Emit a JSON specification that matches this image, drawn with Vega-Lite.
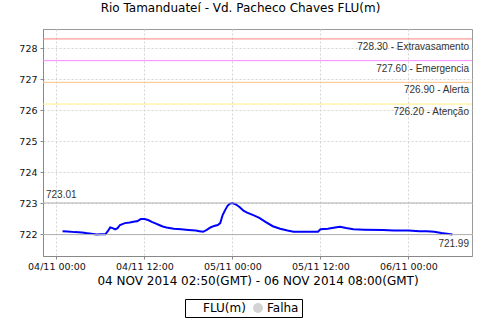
{
  "$schema": "https://vega.github.io/schema/vega-lite/v6.json",
  "width": 429,
  "height": 227,
  "autosize": {"type": "none"},
  "padding": {"left": 43, "top": 29, "right": 8, "bottom": 64},
  "title": {"text": "Rio Tamanduateí - Vd. Pacheco Chaves FLU(m)", "dx": -17, "offset": 14},
  "config": {
    "font": "DejaVu Sans",
    "view": {"stroke": "#999999"},
    "title": {"font": "DejaVu Sans", "fontSize": 12, "fontWeight": "normal", "color": "#000000", "anchor": "middle"},
    "axis": {
      "domainColor": "#888888", "tickColor": "#888888", "tickSize": 3,
      "gridColor": "#d4d4d4", "gridDash": [2, 2],
      "labelFont": "DejaVu Sans", "labelFontSize": 9.5, "labelColor": "#111111",
      "titleFont": "DejaVu Sans", "titleFontSize": 12, "titleFontWeight": "normal", "titleColor": "#000000"
    },
    "legend": {
      "strokeColor": "#000000", "padding": 3, "labelFont": "DejaVu Sans", "labelFontSize": 12,
      "labelColor": "#000000", "direction": "horizontal", "columnPadding": 6, "labelOffset": 3
    }
  },
  "datasets": {
    "flu": [
      {"t": "2014-11-04T00:50:00Z", "v": 722.10, "s": "FLU(m)"},
      {"t": "2014-11-04T01:30:00Z", "v": 722.09, "s": "FLU(m)"},
      {"t": "2014-11-04T02:30:00Z", "v": 722.07, "s": "FLU(m)"},
      {"t": "2014-11-04T03:30:00Z", "v": 722.06, "s": "FLU(m)"},
      {"t": "2014-11-04T04:00:00Z", "v": 722.04, "s": "FLU(m)"},
      {"t": "2014-11-04T05:00:00Z", "v": 722.01, "s": "FLU(m)"},
      {"t": "2014-11-04T05:30:00Z", "v": 721.99, "s": "FLU(m)"},
      {"t": "2014-11-04T06:00:00Z", "v": 722.00, "s": "FLU(m)"},
      {"t": "2014-11-04T06:40:00Z", "v": 722.00, "s": "FLU(m)"},
      {"t": "2014-11-04T07:00:00Z", "v": 722.10, "s": "FLU(m)"},
      {"t": "2014-11-04T07:20:00Z", "v": 722.22, "s": "FLU(m)"},
      {"t": "2014-11-04T07:40:00Z", "v": 722.20, "s": "FLU(m)"},
      {"t": "2014-11-04T08:00:00Z", "v": 722.16, "s": "FLU(m)"},
      {"t": "2014-11-04T08:20:00Z", "v": 722.20, "s": "FLU(m)"},
      {"t": "2014-11-04T08:40:00Z", "v": 722.30, "s": "FLU(m)"},
      {"t": "2014-11-04T09:20:00Z", "v": 722.36, "s": "FLU(m)"},
      {"t": "2014-11-04T10:00:00Z", "v": 722.38, "s": "FLU(m)"},
      {"t": "2014-11-04T10:40:00Z", "v": 722.41, "s": "FLU(m)"},
      {"t": "2014-11-04T11:00:00Z", "v": 722.42, "s": "FLU(m)"},
      {"t": "2014-11-04T11:30:00Z", "v": 722.49, "s": "FLU(m)"},
      {"t": "2014-11-04T12:00:00Z", "v": 722.49, "s": "FLU(m)"},
      {"t": "2014-11-04T12:30:00Z", "v": 722.46, "s": "FLU(m)"},
      {"t": "2014-11-04T13:00:00Z", "v": 722.40, "s": "FLU(m)"},
      {"t": "2014-11-04T13:30:00Z", "v": 722.35, "s": "FLU(m)"},
      {"t": "2014-11-04T14:00:00Z", "v": 722.30, "s": "FLU(m)"},
      {"t": "2014-11-04T14:30:00Z", "v": 722.25, "s": "FLU(m)"},
      {"t": "2014-11-04T15:00:00Z", "v": 722.22, "s": "FLU(m)"},
      {"t": "2014-11-04T16:00:00Z", "v": 722.18, "s": "FLU(m)"},
      {"t": "2014-11-04T17:00:00Z", "v": 722.16, "s": "FLU(m)"},
      {"t": "2014-11-04T18:00:00Z", "v": 722.14, "s": "FLU(m)"},
      {"t": "2014-11-04T19:00:00Z", "v": 722.12, "s": "FLU(m)"},
      {"t": "2014-11-04T19:30:00Z", "v": 722.10, "s": "FLU(m)"},
      {"t": "2014-11-04T20:00:00Z", "v": 722.08, "s": "FLU(m)"},
      {"t": "2014-11-04T20:30:00Z", "v": 722.14, "s": "FLU(m)"},
      {"t": "2014-11-04T21:00:00Z", "v": 722.22, "s": "FLU(m)"},
      {"t": "2014-11-04T21:30:00Z", "v": 722.27, "s": "FLU(m)"},
      {"t": "2014-11-04T22:00:00Z", "v": 722.30, "s": "FLU(m)"},
      {"t": "2014-11-04T22:20:00Z", "v": 722.36, "s": "FLU(m)"},
      {"t": "2014-11-04T22:40:00Z", "v": 722.62, "s": "FLU(m)"},
      {"t": "2014-11-04T23:00:00Z", "v": 722.78, "s": "FLU(m)"},
      {"t": "2014-11-04T23:20:00Z", "v": 722.92, "s": "FLU(m)"},
      {"t": "2014-11-04T23:40:00Z", "v": 722.99, "s": "FLU(m)"},
      {"t": "2014-11-05T00:00:00Z", "v": 723.01, "s": "FLU(m)"},
      {"t": "2014-11-05T00:30:00Z", "v": 722.96, "s": "FLU(m)"},
      {"t": "2014-11-05T01:00:00Z", "v": 722.87, "s": "FLU(m)"},
      {"t": "2014-11-05T01:30:00Z", "v": 722.76, "s": "FLU(m)"},
      {"t": "2014-11-05T02:00:00Z", "v": 722.70, "s": "FLU(m)"},
      {"t": "2014-11-05T03:00:00Z", "v": 722.60, "s": "FLU(m)"},
      {"t": "2014-11-05T03:40:00Z", "v": 722.53, "s": "FLU(m)"},
      {"t": "2014-11-05T04:30:00Z", "v": 722.40, "s": "FLU(m)"},
      {"t": "2014-11-05T05:30:00Z", "v": 722.26, "s": "FLU(m)"},
      {"t": "2014-11-05T06:30:00Z", "v": 722.18, "s": "FLU(m)"},
      {"t": "2014-11-05T07:30:00Z", "v": 722.12, "s": "FLU(m)"},
      {"t": "2014-11-05T08:20:00Z", "v": 722.08, "s": "FLU(m)"},
      {"t": "2014-11-05T10:00:00Z", "v": 722.08, "s": "FLU(m)"},
      {"t": "2014-11-05T11:40:00Z", "v": 722.08, "s": "FLU(m)"},
      {"t": "2014-11-05T12:00:00Z", "v": 722.16, "s": "FLU(m)"},
      {"t": "2014-11-05T13:00:00Z", "v": 722.18, "s": "FLU(m)"},
      {"t": "2014-11-05T14:00:00Z", "v": 722.22, "s": "FLU(m)"},
      {"t": "2014-11-05T14:40:00Z", "v": 722.24, "s": "FLU(m)"},
      {"t": "2014-11-05T15:30:00Z", "v": 722.20, "s": "FLU(m)"},
      {"t": "2014-11-05T16:30:00Z", "v": 722.16, "s": "FLU(m)"},
      {"t": "2014-11-05T18:00:00Z", "v": 722.15, "s": "FLU(m)"},
      {"t": "2014-11-05T20:30:00Z", "v": 722.14, "s": "FLU(m)"},
      {"t": "2014-11-05T22:00:00Z", "v": 722.12, "s": "FLU(m)"},
      {"t": "2014-11-06T00:00:00Z", "v": 722.12, "s": "FLU(m)"},
      {"t": "2014-11-06T01:30:00Z", "v": 722.10, "s": "FLU(m)"},
      {"t": "2014-11-06T02:30:00Z", "v": 722.10, "s": "FLU(m)"},
      {"t": "2014-11-06T03:30:00Z", "v": 722.08, "s": "FLU(m)"},
      {"t": "2014-11-06T04:30:00Z", "v": 722.04, "s": "FLU(m)"},
      {"t": "2014-11-06T05:30:00Z", "v": 722.01, "s": "FLU(m)"},
      {"t": "2014-11-06T06:00:00Z", "v": 721.99, "s": "FLU(m)"}
    ],
    "lim": [
      {"v": 728.30, "nome": "Extravasamento", "txt": "728.30 - Extravasamento"},
      {"v": 727.60, "nome": "Emergencia", "txt": "727.60 - Emergencia"},
      {"v": 726.90, "nome": "Alerta", "txt": "726.90 - Alerta"},
      {"v": 726.20, "nome": "Atenção", "txt": "726.20 - Atenção"}
    ],
    "ext": [
      {"v": 723.01, "k": "max", "txt": "723.01"},
      {"v": 721.99, "k": "min", "txt": "721.99"}
    ]
  },
  "layer": [
    {
      "data": {"name": "flu"},
      "mark": {"type": "line", "color": "#0000ff", "strokeWidth": 2},
      "encoding": {
        "x": {"field": "t", "type": "temporal",
              "scale": {"type": "utc", "domain": [
                {"year": 2014, "month": 11, "date": 3, "hours": 22, "minutes": 10, "utc": true},
                {"year": 2014, "month": 11, "date": 6, "hours": 8, "minutes": 40, "utc": true}], "nice": false},
              "axis": {"title": "04 NOV 2014 02:50(GMT) - 06 NOV 2014 08:00(GMT)", "labelExpr": "utcFormat(datum.value, '%d/%m %H:%M')",
                       "labelPadding": 2, "titlePadding": 5, "labelFlush": false,
                       "values": [
                         {"year": 2014, "month": 11, "date": 4, "hours": 0, "utc": true},
                         {"year": 2014, "month": 11, "date": 4, "hours": 12, "utc": true},
                         {"year": 2014, "month": 11, "date": 5, "hours": 0, "utc": true},
                         {"year": 2014, "month": 11, "date": 5, "hours": 12, "utc": true},
                         {"year": 2014, "month": 11, "date": 6, "hours": 0, "utc": true}]}},
        "y": {"field": "v", "type": "quantitative", "scale": {"domain": [721.3, 728.62], "nice": false, "zero": false},
              "axis": {"values": [722, 723, 724, 725, 726, 727, 728], "title": null, "labelPadding": 3, "format": "d", "labelOverlap": false}}
      }
    },
    {
      "data": {"name": "flu"},
      "transform": [{"filter": "datum.s == 'Falha'"}],
      "mark": {"type": "point", "filled": true},
      "encoding": {
        "x": {"field": "t", "type": "temporal",
              "scale": {"type": "utc", "domain": [
                {"year": 2014, "month": 11, "date": 3, "hours": 22, "minutes": 10, "utc": true},
                {"year": 2014, "month": 11, "date": 6, "hours": 8, "minutes": 40, "utc": true}], "nice": false},
              "axis": {"title": "04 NOV 2014 02:50(GMT) - 06 NOV 2014 08:00(GMT)", "labelExpr": "utcFormat(datum.value, '%d/%m %H:%M')",
                       "labelPadding": 2, "titlePadding": 5, "labelFlush": false,
                       "values": [
                         {"year": 2014, "month": 11, "date": 4, "hours": 0, "utc": true},
                         {"year": 2014, "month": 11, "date": 4, "hours": 12, "utc": true},
                         {"year": 2014, "month": 11, "date": 5, "hours": 0, "utc": true},
                         {"year": 2014, "month": 11, "date": 5, "hours": 12, "utc": true},
                         {"year": 2014, "month": 11, "date": 6, "hours": 0, "utc": true}]}},
        "y": {"field": "v", "type": "quantitative", "scale": {"domain": [721.3, 728.62], "nice": false, "zero": false},
              "axis": {"values": [722, 723, 724, 725, 726, 727, 728], "title": null, "labelPadding": 3, "format": "d", "labelOverlap": false}},
        "color": {"field": "s", "type": "nominal", "scale": {"domain": ["FLU(m)", "Falha"], "range": ["#0000ff", "#c0c0c0"]},
                  "legend": {"title": null, "orient": "none", "legendX": 142, "legendY": 270,
                             "encode": {"symbols": {"update": {
                               "size": {"signal": "datum.value === 'Falha' ? 30 : 144"},
                               "stroke": {"signal": "datum.value === 'Falha' ? '#c0c0c0' : '#0000ff'"},
                               "strokeWidth": {"signal": "datum.value === 'Falha' ? 0 : 2"}}}}}},
        "shape": {"field": "s", "type": "nominal", "scale": {"domain": ["FLU(m)", "Falha"], "range": ["stroke", "circle"]}}
      }
    },
    {
      "data": {"name": "ext"},
      "mark": {"type": "rule", "color": "#b0b0b0", "strokeWidth": 1},
      "encoding": {
        "y": {"field": "v", "type": "quantitative", "scale": {"domain": [721.3, 728.62], "nice": false, "zero": false},
              "axis": {"values": [722, 723, 724, 725, 726, 727, 728], "title": null, "labelPadding": 3, "format": "d", "labelOverlap": false}}
      }
    },
    {
      "data": {"name": "lim"},
      "mark": {"type": "rule", "strokeWidth": 1},
      "encoding": {
        "y": {"field": "v", "type": "quantitative", "scale": {"domain": [721.3, 728.62], "nice": false, "zero": false},
              "axis": {"values": [722, 723, 724, 725, 726, 727, 728], "title": null, "labelPadding": 3, "format": "d", "labelOverlap": false}},
        "stroke": {"field": "nome", "type": "nominal", "legend": null,
                   "scale": {"domain": ["Extravasamento", "Emergencia", "Alerta", "Atenção"], "range": ["#ff8080", "#ff88ff", "#ffc080", "#ffee80"]}}
      }
    },
    {
      "data": {"name": "lim"},
      "mark": {"type": "text", "align": "right", "baseline": "middle", "dx": -3, "dy": 8, "font": "Liberation Sans", "fontSize": 10, "color": "#333333"},
      "encoding": {
        "x": {"datum": {"year": 2014, "month": 11, "date": 6, "hours": 8, "minutes": 40, "utc": true}, "type": "temporal",
              "scale": {"type": "utc", "domain": [
                {"year": 2014, "month": 11, "date": 3, "hours": 22, "minutes": 10, "utc": true},
                {"year": 2014, "month": 11, "date": 6, "hours": 8, "minutes": 40, "utc": true}], "nice": false},
              "axis": {"title": "04 NOV 2014 02:50(GMT) - 06 NOV 2014 08:00(GMT)", "labelExpr": "utcFormat(datum.value, '%d/%m %H:%M')",
                       "labelPadding": 2, "titlePadding": 5, "labelFlush": false,
                       "values": [
                         {"year": 2014, "month": 11, "date": 4, "hours": 0, "utc": true},
                         {"year": 2014, "month": 11, "date": 4, "hours": 12, "utc": true},
                         {"year": 2014, "month": 11, "date": 5, "hours": 0, "utc": true},
                         {"year": 2014, "month": 11, "date": 5, "hours": 12, "utc": true},
                         {"year": 2014, "month": 11, "date": 6, "hours": 0, "utc": true}]}},
        "y": {"field": "v", "type": "quantitative", "scale": {"domain": [721.3, 728.62], "nice": false, "zero": false},
              "axis": {"values": [722, 723, 724, 725, 726, 727, 728], "title": null, "labelPadding": 3, "format": "d", "labelOverlap": false}},
        "text": {"field": "txt"}
      }
    },
    {
      "data": {"name": "ext"},
      "transform": [{"filter": "datum.k == 'max'"}],
      "mark": {"type": "text", "align": "left", "baseline": "middle", "dx": 3, "dy": -8, "font": "Liberation Sans", "fontSize": 10, "color": "#333333"},
      "encoding": {
        "x": {"datum": {"year": 2014, "month": 11, "date": 3, "hours": 22, "minutes": 10, "utc": true}, "type": "temporal",
              "scale": {"type": "utc", "domain": [
                {"year": 2014, "month": 11, "date": 3, "hours": 22, "minutes": 10, "utc": true},
                {"year": 2014, "month": 11, "date": 6, "hours": 8, "minutes": 40, "utc": true}], "nice": false},
              "axis": {"title": "04 NOV 2014 02:50(GMT) - 06 NOV 2014 08:00(GMT)", "labelExpr": "utcFormat(datum.value, '%d/%m %H:%M')",
                       "labelPadding": 2, "titlePadding": 5, "labelFlush": false,
                       "values": [
                         {"year": 2014, "month": 11, "date": 4, "hours": 0, "utc": true},
                         {"year": 2014, "month": 11, "date": 4, "hours": 12, "utc": true},
                         {"year": 2014, "month": 11, "date": 5, "hours": 0, "utc": true},
                         {"year": 2014, "month": 11, "date": 5, "hours": 12, "utc": true},
                         {"year": 2014, "month": 11, "date": 6, "hours": 0, "utc": true}]}},
        "y": {"field": "v", "type": "quantitative", "scale": {"domain": [721.3, 728.62], "nice": false, "zero": false},
              "axis": {"values": [722, 723, 724, 725, 726, 727, 728], "title": null, "labelPadding": 3, "format": "d", "labelOverlap": false}},
        "text": {"field": "txt"}
      }
    },
    {
      "data": {"name": "ext"},
      "transform": [{"filter": "datum.k == 'min'"}],
      "mark": {"type": "text", "align": "right", "baseline": "middle", "dx": -3, "dy": 9, "font": "Liberation Sans", "fontSize": 10, "color": "#333333"},
      "encoding": {
        "x": {"datum": {"year": 2014, "month": 11, "date": 6, "hours": 8, "minutes": 40, "utc": true}, "type": "temporal",
              "scale": {"type": "utc", "domain": [
                {"year": 2014, "month": 11, "date": 3, "hours": 22, "minutes": 10, "utc": true},
                {"year": 2014, "month": 11, "date": 6, "hours": 8, "minutes": 40, "utc": true}], "nice": false},
              "axis": {"title": "04 NOV 2014 02:50(GMT) - 06 NOV 2014 08:00(GMT)", "labelExpr": "utcFormat(datum.value, '%d/%m %H:%M')",
                       "labelPadding": 2, "titlePadding": 5, "labelFlush": false,
                       "values": [
                         {"year": 2014, "month": 11, "date": 4, "hours": 0, "utc": true},
                         {"year": 2014, "month": 11, "date": 4, "hours": 12, "utc": true},
                         {"year": 2014, "month": 11, "date": 5, "hours": 0, "utc": true},
                         {"year": 2014, "month": 11, "date": 5, "hours": 12, "utc": true},
                         {"year": 2014, "month": 11, "date": 6, "hours": 0, "utc": true}]}},
        "y": {"field": "v", "type": "quantitative", "scale": {"domain": [721.3, 728.62], "nice": false, "zero": false},
              "axis": {"values": [722, 723, 724, 725, 726, 727, 728], "title": null, "labelPadding": 3, "format": "d", "labelOverlap": false}},
        "text": {"field": "txt"}
      }
    }
  ]
}
